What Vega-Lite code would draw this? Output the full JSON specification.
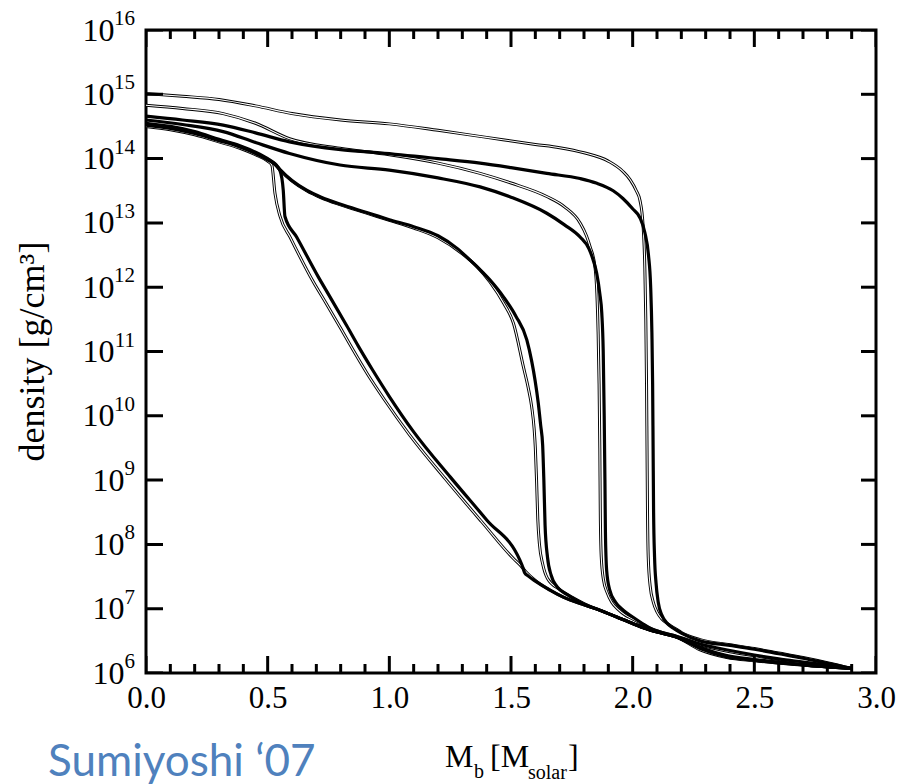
{
  "$schema": "https://vega.github.io/schema/vega-lite/v6.json",
  "width": 730,
  "height": 643,
  "autosize": "none",
  "padding": {"left": 146, "top": 30, "right": 22, "bottom": 111},
  "background": "white",
  "config": {
    "view": {"stroke": "black", "strokeWidth": 3},
    "axis": {"grid": false, "domain": false, "ticks": false, "tickSize": 0, "labelColor": "black", "titleColor": "black", "labelFont": "Liberation Serif", "titleFont": "Liberation Serif"}
  },
  "datasets": {
    "decades": [
      {"decade": 6, "exp": "6"}, {"decade": 7, "exp": "7"}, {"decade": 8, "exp": "8"}, {"decade": 9, "exp": "9"}, {"decade": 10, "exp": "10"}, {"decade": 11, "exp": "11"}, {"decade": 12, "exp": "12"}, {"decade": 13, "exp": "13"}, {"decade": 14, "exp": "14"}, {"decade": 15, "exp": "15"}, {"decade": 16, "exp": "16"}
    ],
    "xmajor": [{"M": 0}, {"M": 0.5}, {"M": 1}, {"M": 1.5}, {"M": 2}, {"M": 2.5}, {"M": 3}],
    "xminor": [{"M": 0.1}, {"M": 0.2}, {"M": 0.3}, {"M": 0.4}, {"M": 0.6}, {"M": 0.7}, {"M": 0.8}, {"M": 0.9}, {"M": 1.1}, {"M": 1.2}, {"M": 1.3}, {"M": 1.4}, {"M": 1.6}, {"M": 1.7}, {"M": 1.8}, {"M": 1.9}, {"M": 2.1}, {"M": 2.2}, {"M": 2.3}, {"M": 2.4}, {"M": 2.6}, {"M": 2.7}, {"M": 2.8}, {"M": 2.9}],
    "curves": [
      {"curve":"A","kind":"thick","M":0,"log_rho":14.52},{"curve":"A","kind":"thick","M":0.1,"log_rho":14.47},{"curve":"A","kind":"thick","M":0.2,"log_rho":14.39},{"curve":"A","kind":"thick","M":0.3,"log_rho":14.28},{"curve":"A","kind":"thick","M":0.386,"log_rho":14.18},{"curve":"A","kind":"thick","M":0.45,"log_rho":14.08},{"curve":"A","kind":"thick","M":0.5,"log_rho":13.98},{"curve":"A","kind":"thick","M":0.53,"log_rho":13.91},{"curve":"A","kind":"thick","M":0.551,"log_rho":13.81},{"curve":"A","kind":"thick","M":0.564,"log_rho":13.51},{"curve":"A","kind":"thick","M":0.571,"log_rho":13.1},{"curve":"A","kind":"thick","M":0.619,"log_rho":12.78},{"curve":"A","kind":"thick","M":0.708,"log_rho":12.16},{"curve":"A","kind":"thick","M":0.756,"log_rho":11.85},{"curve":"A","kind":"thick","M":0.825,"log_rho":11.4},{"curve":"A","kind":"thick","M":0.873,"log_rho":11.08},{"curve":"A","kind":"thick","M":0.93,"log_rho":10.72},{"curve":"A","kind":"thick","M":1.0,"log_rho":10.3},{"curve":"A","kind":"thick","M":1.1,"log_rho":9.75},{"curve":"A","kind":"thick","M":1.25,"log_rho":9.05},{"curve":"A","kind":"thick","M":1.4,"log_rho":8.38},{"curve":"A","kind":"thick","M":1.537,"log_rho":7.75},{"curve":"A","kind":"thick","M":1.547,"log_rho":7.66},{"curve":"A","kind":"thick","M":1.556,"log_rho":7.56},{"curve":"A","kind":"thick","M":1.57,"log_rho":7.51},{"curve":"A","kind":"thick","M":1.6,"log_rho":7.43},{"curve":"A","kind":"thick","M":1.66,"log_rho":7.29},{"curve":"A","kind":"thick","M":1.715,"log_rho":7.18},{"curve":"A","kind":"thick","M":1.8,"log_rho":7.06},{"curve":"A","kind":"thick","M":1.87,"log_rho":6.97},{"curve":"A","kind":"thick","M":1.935,"log_rho":6.87},{"curve":"A","kind":"thick","M":2.0,"log_rho":6.77},{"curve":"A","kind":"thick","M":2.07,"log_rho":6.67},{"curve":"A","kind":"thick","M":2.13,"log_rho":6.61},{"curve":"A","kind":"thick","M":2.18,"log_rho":6.56},{"curve":"A","kind":"thick","M":2.277,"log_rho":6.38},{"curve":"A","kind":"thick","M":2.387,"log_rho":6.25},{"curve":"A","kind":"thick","M":2.5,"log_rho":6.2},{"curve":"A","kind":"thick","M":2.62,"log_rho":6.15},{"curve":"A","kind":"thick","M":2.75,"log_rho":6.11},{"curve":"A","kind":"thick","M":2.9,"log_rho":6.07},

      {"curve":"A","kind":"thin","M":0,"log_rho":14.5},{"curve":"A","kind":"thin","M":0.1,"log_rho":14.45},{"curve":"A","kind":"thin","M":0.2,"log_rho":14.37},{"curve":"A","kind":"thin","M":0.3,"log_rho":14.26},{"curve":"A","kind":"thin","M":0.386,"log_rho":14.16},{"curve":"A","kind":"thin","M":0.45,"log_rho":14.06},{"curve":"A","kind":"thin","M":0.5,"log_rho":13.96},{"curve":"A","kind":"thin","M":0.517,"log_rho":13.9},{"curve":"A","kind":"thin","M":0.53,"log_rho":13.46},{"curve":"A","kind":"thin","M":0.551,"log_rho":13.1},{"curve":"A","kind":"thin","M":0.592,"log_rho":12.78},{"curve":"A","kind":"thin","M":0.688,"log_rho":12.08},{"curve":"A","kind":"thin","M":0.74,"log_rho":11.75},{"curve":"A","kind":"thin","M":0.797,"log_rho":11.38},{"curve":"A","kind":"thin","M":0.85,"log_rho":11.03},{"curve":"A","kind":"thin","M":0.91,"log_rho":10.65},{"curve":"A","kind":"thin","M":0.98,"log_rho":10.25},{"curve":"A","kind":"thin","M":1.08,"log_rho":9.72},{"curve":"A","kind":"thin","M":1.23,"log_rho":9.02},{"curve":"A","kind":"thin","M":1.38,"log_rho":8.35},{"curve":"A","kind":"thin","M":1.51,"log_rho":7.78},{"curve":"A","kind":"thin","M":1.54,"log_rho":7.67},{"curve":"A","kind":"thin","M":1.56,"log_rho":7.58},{"curve":"A","kind":"thin","M":1.6,"log_rho":7.44},{"curve":"A","kind":"thin","M":1.66,"log_rho":7.29},{"curve":"A","kind":"thin","M":1.715,"log_rho":7.18},{"curve":"A","kind":"thin","M":1.8,"log_rho":7.06},{"curve":"A","kind":"thin","M":1.87,"log_rho":6.97},{"curve":"A","kind":"thin","M":1.935,"log_rho":6.87},{"curve":"A","kind":"thin","M":2.0,"log_rho":6.77},{"curve":"A","kind":"thin","M":2.07,"log_rho":6.67},{"curve":"A","kind":"thin","M":2.13,"log_rho":6.61},{"curve":"A","kind":"thin","M":2.18,"log_rho":6.56},{"curve":"A","kind":"thin","M":2.277,"log_rho":6.36},{"curve":"A","kind":"thin","M":2.387,"log_rho":6.24},{"curve":"A","kind":"thin","M":2.5,"log_rho":6.19},{"curve":"A","kind":"thin","M":2.62,"log_rho":6.15},{"curve":"A","kind":"thin","M":2.75,"log_rho":6.11},{"curve":"A","kind":"thin","M":2.9,"log_rho":6.07},

      {"curve":"B","kind":"thick","M":0,"log_rho":14.55},{"curve":"B","kind":"thick","M":0.1,"log_rho":14.5},{"curve":"B","kind":"thick","M":0.2,"log_rho":14.42},{"curve":"B","kind":"thick","M":0.3,"log_rho":14.3},{"curve":"B","kind":"thick","M":0.386,"log_rho":14.2},{"curve":"B","kind":"thick","M":0.45,"log_rho":14.1},{"curve":"B","kind":"thick","M":0.5,"log_rho":14.0},{"curve":"B","kind":"thick","M":0.53,"log_rho":13.92},{"curve":"B","kind":"thick","M":0.551,"log_rho":13.83},{"curve":"B","kind":"thick","M":0.6,"log_rho":13.66},{"curve":"B","kind":"thick","M":0.66,"log_rho":13.51},{"curve":"B","kind":"thick","M":0.72,"log_rho":13.4},{"curve":"B","kind":"thick","M":0.8,"log_rho":13.29},{"curve":"B","kind":"thick","M":0.9,"log_rho":13.17},{"curve":"B","kind":"thick","M":1.0,"log_rho":13.05},{"curve":"B","kind":"thick","M":1.1,"log_rho":12.94},{"curve":"B","kind":"thick","M":1.2,"log_rho":12.8},{"curve":"B","kind":"thick","M":1.28,"log_rho":12.6},{"curve":"B","kind":"thick","M":1.332,"log_rho":12.42},{"curve":"B","kind":"thick","M":1.414,"log_rho":12.11},{"curve":"B","kind":"thick","M":1.469,"log_rho":11.85},{"curve":"B","kind":"thick","M":1.52,"log_rho":11.55},{"curve":"B","kind":"thick","M":1.565,"log_rho":11.18},{"curve":"B","kind":"thick","M":1.585,"log_rho":10.85},{"curve":"B","kind":"thick","M":1.599,"log_rho":10.55},{"curve":"B","kind":"thick","M":1.612,"log_rho":10.2},{"curve":"B","kind":"thick","M":1.622,"log_rho":9.85},{"curve":"B","kind":"thick","M":1.63,"log_rho":9.55},{"curve":"B","kind":"thick","M":1.635,"log_rho":9.0},{"curve":"B","kind":"thick","M":1.64,"log_rho":8.3},{"curve":"B","kind":"thick","M":1.65,"log_rho":7.8},{"curve":"B","kind":"thick","M":1.665,"log_rho":7.52},{"curve":"B","kind":"thick","M":1.69,"log_rho":7.34},{"curve":"B","kind":"thick","M":1.73,"log_rho":7.22},{"curve":"B","kind":"thick","M":1.8,"log_rho":7.07},{"curve":"B","kind":"thick","M":1.87,"log_rho":6.97},{"curve":"B","kind":"thick","M":1.935,"log_rho":6.87},{"curve":"B","kind":"thick","M":2.0,"log_rho":6.77},{"curve":"B","kind":"thick","M":2.07,"log_rho":6.67},{"curve":"B","kind":"thick","M":2.13,"log_rho":6.61},{"curve":"B","kind":"thick","M":2.18,"log_rho":6.56},{"curve":"B","kind":"thick","M":2.277,"log_rho":6.4},{"curve":"B","kind":"thick","M":2.387,"log_rho":6.27},{"curve":"B","kind":"thick","M":2.5,"log_rho":6.21},{"curve":"B","kind":"thick","M":2.62,"log_rho":6.16},{"curve":"B","kind":"thick","M":2.75,"log_rho":6.11},{"curve":"B","kind":"thick","M":2.9,"log_rho":6.07},

      {"curve":"B","kind":"thin","M":0,"log_rho":14.54},{"curve":"B","kind":"thin","M":0.1,"log_rho":14.49},{"curve":"B","kind":"thin","M":0.2,"log_rho":14.41},{"curve":"B","kind":"thin","M":0.3,"log_rho":14.29},{"curve":"B","kind":"thin","M":0.386,"log_rho":14.19},{"curve":"B","kind":"thin","M":0.45,"log_rho":14.09},{"curve":"B","kind":"thin","M":0.5,"log_rho":13.99},{"curve":"B","kind":"thin","M":0.53,"log_rho":13.91},{"curve":"B","kind":"thin","M":0.551,"log_rho":13.82},{"curve":"B","kind":"thin","M":0.6,"log_rho":13.65},{"curve":"B","kind":"thin","M":0.66,"log_rho":13.5},{"curve":"B","kind":"thin","M":0.72,"log_rho":13.39},{"curve":"B","kind":"thin","M":0.8,"log_rho":13.28},{"curve":"B","kind":"thin","M":0.9,"log_rho":13.16},{"curve":"B","kind":"thin","M":1.0,"log_rho":13.04},{"curve":"B","kind":"thin","M":1.1,"log_rho":12.92},{"curve":"B","kind":"thin","M":1.2,"log_rho":12.77},{"curve":"B","kind":"thin","M":1.3,"log_rho":12.52},{"curve":"B","kind":"thin","M":1.36,"log_rho":12.32},{"curve":"B","kind":"thin","M":1.414,"log_rho":12.08},{"curve":"B","kind":"thin","M":1.47,"log_rho":11.75},{"curve":"B","kind":"thin","M":1.51,"log_rho":11.44},{"curve":"B","kind":"thin","M":1.551,"log_rho":10.76},{"curve":"B","kind":"thin","M":1.57,"log_rho":10.45},{"curve":"B","kind":"thin","M":1.585,"log_rho":10.14},{"curve":"B","kind":"thin","M":1.595,"log_rho":9.8},{"curve":"B","kind":"thin","M":1.6,"log_rho":9.5},{"curve":"B","kind":"thin","M":1.605,"log_rho":9.0},{"curve":"B","kind":"thin","M":1.61,"log_rho":8.4},{"curve":"B","kind":"thin","M":1.617,"log_rho":8.0},{"curve":"B","kind":"thin","M":1.63,"log_rho":7.7},{"curve":"B","kind":"thin","M":1.65,"log_rho":7.47},{"curve":"B","kind":"thin","M":1.7,"log_rho":7.3},{"curve":"B","kind":"thin","M":1.75,"log_rho":7.18},{"curve":"B","kind":"thin","M":1.8,"log_rho":7.08},{"curve":"B","kind":"thin","M":1.87,"log_rho":6.97},{"curve":"B","kind":"thin","M":1.935,"log_rho":6.87},{"curve":"B","kind":"thin","M":2.0,"log_rho":6.77},{"curve":"B","kind":"thin","M":2.07,"log_rho":6.67},{"curve":"B","kind":"thin","M":2.13,"log_rho":6.61},{"curve":"B","kind":"thin","M":2.18,"log_rho":6.56},{"curve":"B","kind":"thin","M":2.277,"log_rho":6.39},{"curve":"B","kind":"thin","M":2.387,"log_rho":6.26},{"curve":"B","kind":"thin","M":2.5,"log_rho":6.2},{"curve":"B","kind":"thin","M":2.62,"log_rho":6.16},{"curve":"B","kind":"thin","M":2.75,"log_rho":6.11},{"curve":"B","kind":"thin","M":2.9,"log_rho":6.07},

      {"curve":"C","kind":"thick","M":0,"log_rho":14.6},{"curve":"C","kind":"thick","M":0.15,"log_rho":14.53},{"curve":"C","kind":"thick","M":0.317,"log_rho":14.42},{"curve":"C","kind":"thick","M":0.45,"log_rho":14.25},{"curve":"C","kind":"thick","M":0.59,"log_rho":14.08},{"curve":"C","kind":"thick","M":0.797,"log_rho":13.9},{"curve":"C","kind":"thick","M":1.0,"log_rho":13.82},{"curve":"C","kind":"thick","M":1.2,"log_rho":13.7},{"curve":"C","kind":"thick","M":1.373,"log_rho":13.56},{"curve":"C","kind":"thick","M":1.5,"log_rho":13.4},{"curve":"C","kind":"thick","M":1.647,"log_rho":13.15},{"curve":"C","kind":"thick","M":1.72,"log_rho":12.97},{"curve":"C","kind":"thick","M":1.784,"log_rho":12.78},{"curve":"C","kind":"thick","M":1.82,"log_rho":12.6},{"curve":"C","kind":"thick","M":1.838,"log_rho":12.42},{"curve":"C","kind":"thick","M":1.852,"log_rho":12.22},{"curve":"C","kind":"thick","M":1.865,"log_rho":11.9},{"curve":"C","kind":"thick","M":1.873,"log_rho":11.6},{"curve":"C","kind":"thick","M":1.879,"log_rho":11.0},{"curve":"C","kind":"thick","M":1.883,"log_rho":10.0},{"curve":"C","kind":"thick","M":1.886,"log_rho":9.0},{"curve":"C","kind":"thick","M":1.888,"log_rho":8.2},{"curve":"C","kind":"thick","M":1.893,"log_rho":7.6},{"curve":"C","kind":"thick","M":1.905,"log_rho":7.3},{"curve":"C","kind":"thick","M":1.93,"log_rho":7.1},{"curve":"C","kind":"thick","M":1.96,"log_rho":6.98},{"curve":"C","kind":"thick","M":2.0,"log_rho":6.87},{"curve":"C","kind":"thick","M":2.04,"log_rho":6.77},{"curve":"C","kind":"thick","M":2.07,"log_rho":6.7},{"curve":"C","kind":"thick","M":2.13,"log_rho":6.62},{"curve":"C","kind":"thick","M":2.18,"log_rho":6.57},{"curve":"C","kind":"thick","M":2.277,"log_rho":6.45},{"curve":"C","kind":"thick","M":2.4,"log_rho":6.35},{"curve":"C","kind":"thick","M":2.5,"log_rho":6.28},{"curve":"C","kind":"thick","M":2.6,"log_rho":6.22},{"curve":"C","kind":"thick","M":2.7,"log_rho":6.17},{"curve":"C","kind":"thick","M":2.8,"log_rho":6.12},{"curve":"C","kind":"thick","M":2.9,"log_rho":6.07},

      {"curve":"C","kind":"thin","M":0,"log_rho":14.83},{"curve":"C","kind":"thin","M":0.15,"log_rho":14.78},{"curve":"C","kind":"thin","M":0.317,"log_rho":14.7},{"curve":"C","kind":"thin","M":0.45,"log_rho":14.55},{"curve":"C","kind":"thin","M":0.59,"log_rho":14.31},{"curve":"C","kind":"thin","M":0.797,"log_rho":14.16},{"curve":"C","kind":"thin","M":1.0,"log_rho":14.06},{"curve":"C","kind":"thin","M":1.2,"log_rho":13.93},{"curve":"C","kind":"thin","M":1.373,"log_rho":13.77},{"curve":"C","kind":"thin","M":1.5,"log_rho":13.62},{"curve":"C","kind":"thin","M":1.647,"log_rho":13.41},{"curve":"C","kind":"thin","M":1.72,"log_rho":13.25},{"curve":"C","kind":"thin","M":1.784,"log_rho":13.0},{"curve":"C","kind":"thin","M":1.81,"log_rho":12.8},{"curve":"C","kind":"thin","M":1.825,"log_rho":12.63},{"curve":"C","kind":"thin","M":1.845,"log_rho":12.32},{"curve":"C","kind":"thin","M":1.853,"log_rho":11.9},{"curve":"C","kind":"thin","M":1.858,"log_rho":11.3},{"curve":"C","kind":"thin","M":1.862,"log_rho":10.5},{"curve":"C","kind":"thin","M":1.865,"log_rho":9.5},{"curve":"C","kind":"thin","M":1.867,"log_rho":8.5},{"curve":"C","kind":"thin","M":1.871,"log_rho":7.8},{"curve":"C","kind":"thin","M":1.88,"log_rho":7.45},{"curve":"C","kind":"thin","M":1.895,"log_rho":7.25},{"curve":"C","kind":"thin","M":1.914,"log_rho":7.1},{"curve":"C","kind":"thin","M":1.94,"log_rho":6.99},{"curve":"C","kind":"thin","M":1.97,"log_rho":6.9},{"curve":"C","kind":"thin","M":2.0,"log_rho":6.84},{"curve":"C","kind":"thin","M":2.04,"log_rho":6.76},{"curve":"C","kind":"thin","M":2.07,"log_rho":6.7},{"curve":"C","kind":"thin","M":2.13,"log_rho":6.62},{"curve":"C","kind":"thin","M":2.18,"log_rho":6.57},{"curve":"C","kind":"thin","M":2.277,"log_rho":6.44},{"curve":"C","kind":"thin","M":2.4,"log_rho":6.33},{"curve":"C","kind":"thin","M":2.5,"log_rho":6.27},{"curve":"C","kind":"thin","M":2.6,"log_rho":6.21},{"curve":"C","kind":"thin","M":2.7,"log_rho":6.16},{"curve":"C","kind":"thin","M":2.8,"log_rho":6.12},{"curve":"C","kind":"thin","M":2.9,"log_rho":6.07},

      {"curve":"D","kind":"thick","M":0,"log_rho":14.66},{"curve":"D","kind":"thick","M":0.15,"log_rho":14.6},{"curve":"D","kind":"thick","M":0.317,"log_rho":14.52},{"curve":"D","kind":"thick","M":0.45,"log_rho":14.4},{"curve":"D","kind":"thick","M":0.59,"log_rho":14.26},{"curve":"D","kind":"thick","M":0.8,"log_rho":14.14},{"curve":"D","kind":"thick","M":0.962,"log_rho":14.09},{"curve":"D","kind":"thick","M":1.2,"log_rho":14.0},{"curve":"D","kind":"thick","M":1.373,"log_rho":13.93},{"curve":"D","kind":"thick","M":1.5,"log_rho":13.86},{"curve":"D","kind":"thick","M":1.647,"log_rho":13.77},{"curve":"D","kind":"thick","M":1.784,"log_rho":13.69},{"curve":"D","kind":"thick","M":1.85,"log_rho":13.62},{"curve":"D","kind":"thick","M":1.92,"log_rho":13.5},{"curve":"D","kind":"thick","M":1.96,"log_rho":13.38},{"curve":"D","kind":"thick","M":2.0,"log_rho":13.22},{"curve":"D","kind":"thick","M":2.03,"log_rho":13.08},{"curve":"D","kind":"thick","M":2.05,"log_rho":12.85},{"curve":"D","kind":"thick","M":2.065,"log_rho":12.5},{"curve":"D","kind":"thick","M":2.074,"log_rho":12.0},{"curve":"D","kind":"thick","M":2.079,"log_rho":11.3},{"curve":"D","kind":"thick","M":2.082,"log_rho":10.5},{"curve":"D","kind":"thick","M":2.084,"log_rho":9.5},{"curve":"D","kind":"thick","M":2.086,"log_rho":8.5},{"curve":"D","kind":"thick","M":2.09,"log_rho":7.8},{"curve":"D","kind":"thick","M":2.096,"log_rho":7.4},{"curve":"D","kind":"thick","M":2.105,"log_rho":7.1},{"curve":"D","kind":"thick","M":2.12,"log_rho":6.9},{"curve":"D","kind":"thick","M":2.145,"log_rho":6.76},{"curve":"D","kind":"thick","M":2.17,"log_rho":6.69},{"curve":"D","kind":"thick","M":2.2,"log_rho":6.62},{"curve":"D","kind":"thick","M":2.277,"log_rho":6.5},{"curve":"D","kind":"thick","M":2.4,"log_rho":6.43},{"curve":"D","kind":"thick","M":2.5,"log_rho":6.37},{"curve":"D","kind":"thick","M":2.6,"log_rho":6.3},{"curve":"D","kind":"thick","M":2.7,"log_rho":6.23},{"curve":"D","kind":"thick","M":2.8,"log_rho":6.15},{"curve":"D","kind":"thick","M":2.9,"log_rho":6.07},

      {"curve":"D","kind":"thin","M":0,"log_rho":15.01},{"curve":"D","kind":"thin","M":0.15,"log_rho":14.97},{"curve":"D","kind":"thin","M":0.3,"log_rho":14.92},{"curve":"D","kind":"thin","M":0.45,"log_rho":14.82},{"curve":"D","kind":"thin","M":0.6,"log_rho":14.7},{"curve":"D","kind":"thin","M":0.8,"log_rho":14.6},{"curve":"D","kind":"thin","M":1.0,"log_rho":14.54},{"curve":"D","kind":"thin","M":1.2,"log_rho":14.44},{"curve":"D","kind":"thin","M":1.4,"log_rho":14.33},{"curve":"D","kind":"thin","M":1.6,"log_rho":14.22},{"curve":"D","kind":"thin","M":1.7,"log_rho":14.17},{"curve":"D","kind":"thin","M":1.8,"log_rho":14.09},{"curve":"D","kind":"thin","M":1.9,"log_rho":13.96},{"curve":"D","kind":"thin","M":1.96,"log_rho":13.8},{"curve":"D","kind":"thin","M":1.99,"log_rho":13.67},{"curve":"D","kind":"thin","M":2.015,"log_rho":13.5},{"curve":"D","kind":"thin","M":2.03,"log_rho":13.35},{"curve":"D","kind":"thin","M":2.042,"log_rho":13.0},{"curve":"D","kind":"thin","M":2.05,"log_rho":12.3},{"curve":"D","kind":"thin","M":2.054,"log_rho":11.5},{"curve":"D","kind":"thin","M":2.057,"log_rho":10.5},{"curve":"D","kind":"thin","M":2.059,"log_rho":9.5},{"curve":"D","kind":"thin","M":2.061,"log_rho":8.5},{"curve":"D","kind":"thin","M":2.064,"log_rho":7.8},{"curve":"D","kind":"thin","M":2.072,"log_rho":7.35},{"curve":"D","kind":"thin","M":2.085,"log_rho":7.1},{"curve":"D","kind":"thin","M":2.1,"log_rho":6.95},{"curve":"D","kind":"thin","M":2.12,"log_rho":6.84},{"curve":"D","kind":"thin","M":2.15,"log_rho":6.75},{"curve":"D","kind":"thin","M":2.18,"log_rho":6.68},{"curve":"D","kind":"thin","M":2.2,"log_rho":6.63},{"curve":"D","kind":"thin","M":2.277,"log_rho":6.52},{"curve":"D","kind":"thin","M":2.4,"log_rho":6.44},{"curve":"D","kind":"thin","M":2.5,"log_rho":6.38},{"curve":"D","kind":"thin","M":2.6,"log_rho":6.31},{"curve":"D","kind":"thin","M":2.7,"log_rho":6.24},{"curve":"D","kind":"thin","M":2.8,"log_rho":6.16},{"curve":"D","kind":"thin","M":2.9,"log_rho":6.07}
    ]
  },
  "layer": [
    {
      "data": {"name": "curves"},
      "transform": [{"filter": "datum.kind == 'thin'"}],
      "mark": {"type": "line", "color": "black", "strokeWidth": 3, "interpolate": "monotone"},
      "encoding": {
        "x": {"field": "M", "type": "quantitative", "scale": {"domain": [0, 3], "nice": false, "zero": false},
          "axis": {"orient": "bottom", "values": [0, 0.5, 1, 1.5, 2, 2.5, 3], "format": ".1f", "labelPadding": 10, "labelFontSize": 31, "labelFlush": false, "labelOverlap": false, "labelBound": false, "title": null}},
        "y": {"field": "log_rho", "type": "quantitative", "scale": {"domain": [6, 16], "nice": false, "zero": false},
          "axis": {"orient": "left", "values": [6, 7, 8, 9, 10, 11, 12, 13, 14, 15, 16],
            "labelPadding": {"condition": {"test": "datum.value >= 10", "value": 32}, "value": 22},
            "labelFontSize": 32, "labelFlush": false, "labelOverlap": false, "labelBound": false,
            "labelExpr": "'10'",
            "title": "density [g/cm³]", "titleFontSize": 36, "titleFontWeight": "normal", "titleX": -103, "titleY": 321, "titleAngle": -90, "titleAlign": "center", "titleBaseline": "alphabetic"}},
        "detail": {"field": "curve"}
      }
    },
    {
      "data": {"name": "curves"},
      "transform": [{"filter": "datum.kind == 'thin'"}],
      "mark": {"type": "line", "color": "white", "strokeWidth": 1.1, "interpolate": "monotone"},
      "encoding": {
        "x": {"field": "M", "type": "quantitative", "axis": null},
        "y": {"field": "log_rho", "type": "quantitative", "axis": null},
        "detail": {"field": "curve"}
      }
    },
    {
      "data": {"name": "curves"},
      "transform": [{"filter": "datum.kind == 'thick'"}],
      "mark": {"type": "line", "color": "black", "strokeWidth": 3.2, "interpolate": "monotone"},
      "encoding": {
        "x": {"field": "M", "type": "quantitative", "axis": null},
        "y": {"field": "log_rho", "type": "quantitative", "axis": null},
        "detail": {"field": "curve"}
      }
    },
    {
      "data": {"name": "xmajor"},
      "mark": {"type": "tick", "orient": "vertical", "color": "black", "opacity": 1, "size": 34, "thickness": 3, "clip": true},
      "encoding": {
        "x": {"field": "M", "type": "quantitative", "axis": null},
        "y": {"datum": 6, "type": "quantitative", "axis": null}
      }
    },
    {
      "data": {"name": "xmajor"},
      "mark": {"type": "tick", "orient": "vertical", "color": "black", "opacity": 1, "size": 34, "thickness": 3, "clip": true},
      "encoding": {
        "x": {"field": "M", "type": "quantitative", "axis": null},
        "y": {"datum": 16, "type": "quantitative", "axis": null}
      }
    },
    {
      "data": {"name": "xminor"},
      "mark": {"type": "tick", "orient": "vertical", "color": "black", "opacity": 1, "size": 18, "thickness": 3, "clip": true},
      "encoding": {
        "x": {"field": "M", "type": "quantitative", "axis": null},
        "y": {"datum": 6, "type": "quantitative", "axis": null}
      }
    },
    {
      "data": {"name": "xminor"},
      "mark": {"type": "tick", "orient": "vertical", "color": "black", "opacity": 1, "size": 18, "thickness": 3, "clip": true},
      "encoding": {
        "x": {"field": "M", "type": "quantitative", "axis": null},
        "y": {"datum": 16, "type": "quantitative", "axis": null}
      }
    },
    {
      "data": {"name": "decades"},
      "mark": {"type": "tick", "orient": "horizontal", "color": "black", "opacity": 1, "size": 34, "thickness": 3, "clip": true},
      "encoding": {
        "y": {"field": "decade", "type": "quantitative", "axis": null},
        "x": {"datum": 0, "type": "quantitative", "axis": null}
      }
    },
    {
      "data": {"name": "decades"},
      "mark": {"type": "tick", "orient": "horizontal", "color": "black", "opacity": 1, "size": 30, "thickness": 3, "clip": true},
      "encoding": {
        "y": {"field": "decade", "type": "quantitative", "axis": null},
        "x": {"datum": 3, "type": "quantitative", "axis": null}
      }
    },
    {
      "data": {"name": "decades"},
      "mark": {"type": "text", "font": "Liberation Serif", "fontSize": 21, "align": "right", "baseline": "alphabetic", "dx": -11, "dy": -5, "color": "black"},
      "encoding": {
        "x": {"datum": 0, "type": "quantitative", "axis": null},
        "y": {"field": "decade", "type": "quantitative", "axis": null},
        "text": {"field": "exp"}
      }
    },
    {
      "data": {"values": [{}]},
      "mark": {"type": "text", "text": "M", "font": "Liberation Serif", "fontSize": 32, "align": "left", "baseline": "alphabetic", "dx": 299, "dy": 94, "color": "black"},
      "encoding": {"x": {"datum": 0, "type": "quantitative", "axis": null}, "y": {"datum": 6, "type": "quantitative", "axis": null}}
    },
    {
      "data": {"values": [{}]},
      "mark": {"type": "text", "text": "b", "font": "Liberation Serif", "fontSize": 20, "align": "left", "baseline": "alphabetic", "dx": 328, "dy": 105, "color": "black"},
      "encoding": {"x": {"datum": 0, "type": "quantitative", "axis": null}, "y": {"datum": 6, "type": "quantitative", "axis": null}}
    },
    {
      "data": {"values": [{}]},
      "mark": {"type": "text", "text": "[M", "font": "Liberation Serif", "fontSize": 32, "align": "left", "baseline": "alphabetic", "dx": 344, "dy": 94, "color": "black"},
      "encoding": {"x": {"datum": 0, "type": "quantitative", "axis": null}, "y": {"datum": 6, "type": "quantitative", "axis": null}}
    },
    {
      "data": {"values": [{}]},
      "mark": {"type": "text", "text": "solar", "font": "Liberation Serif", "fontSize": 20, "align": "left", "baseline": "alphabetic", "dx": 382, "dy": 106, "color": "black"},
      "encoding": {"x": {"datum": 0, "type": "quantitative", "axis": null}, "y": {"datum": 6, "type": "quantitative", "axis": null}}
    },
    {
      "data": {"values": [{}]},
      "mark": {"type": "text", "text": "]", "font": "Liberation Serif", "fontSize": 32, "align": "left", "baseline": "alphabetic", "dx": 422, "dy": 94, "color": "black"},
      "encoding": {"x": {"datum": 0, "type": "quantitative", "axis": null}, "y": {"datum": 6, "type": "quantitative", "axis": null}}
    },
    {
      "data": {"values": [{}]},
      "mark": {"type": "text", "text": "Sumiyoshi ‘07", "font": "Lato", "fontSize": 44, "align": "left", "baseline": "alphabetic", "dx": -98, "dy": 103, "color": "#4F81BD"},
      "encoding": {"x": {"datum": 0, "type": "quantitative", "axis": null}, "y": {"datum": 6, "type": "quantitative", "axis": null}}
    }
  ],
  "resolve": {"axis": {"x": "independent", "y": "independent"}}
}
